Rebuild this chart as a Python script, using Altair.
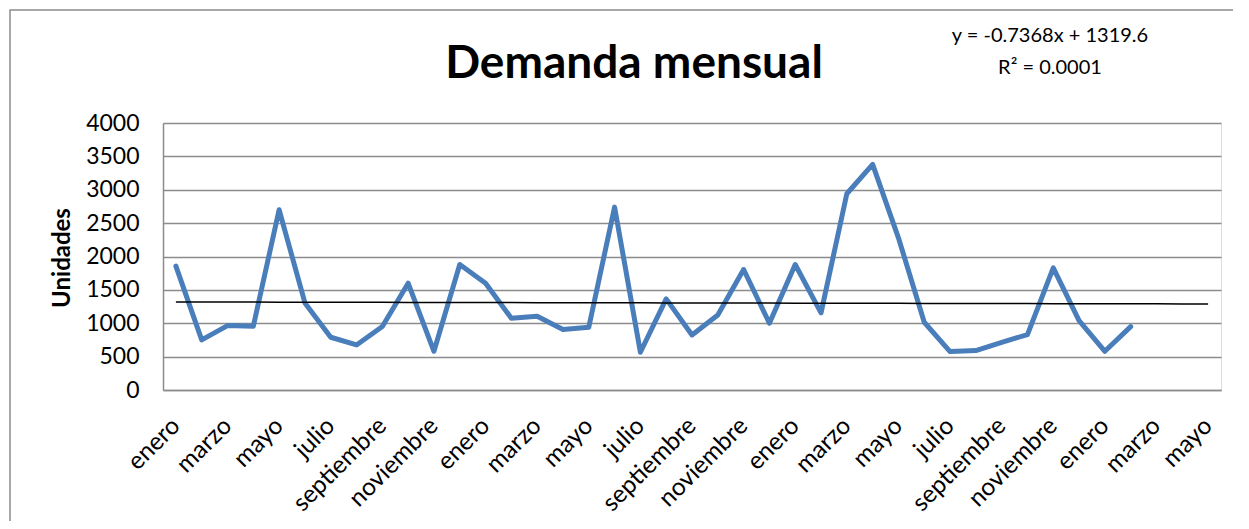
import json
import altair as alt
import pandas as pd

# ---- data ----
meses = ["enero", "febrero", "marzo", "abril", "mayo", "junio", "julio",
         "agosto", "septiembre", "octubre", "noviembre", "diciembre"]
n_periodos = 41  # enero (año 1) ... mayo (año 4)
demanda = [1855, 750, 965, 955, 2700, 1305, 790, 675, 950, 1600, 580, 1880,
           1600, 1075, 1105, 905, 940, 2740, 565, 1365, 825, 1125, 1805, 1000,
           1880, 1155, 2940, 3380, 2280, 1015, 575, 590, 715, 830, 1830, 1040,
           580, 950]
pendiente = -0.7368
intercepto = 1319.6
ecuacion_1 = "y = -0.7368x + 1319.6"
ecuacion_2 = "R² = 0.0001"
titulo = "Demanda mensual"

df = pd.DataFrame({"t": list(range(len(demanda))), "demanda": demanda})
df_trend = pd.DataFrame({
    "t": list(range(n_periodos)),
    "demanda": [pendiente * (i + 1) + intercepto for i in range(n_periodos)],
})

FONT = "Lato"
GRID = "#8c8c8c"
W, H = 1058, 267

x_enc = alt.X(
    "t:O",
    scale=alt.Scale(domain=list(range(n_periodos))),
    axis=alt.Axis(
        title=None,
        values=list(range(0, n_periodos, 2)),
        labelExpr=f"{json.dumps(meses)}[datum.value % 12]",
        labelAngle=-45,
        labelAlign="right",
        labelBaseline="middle",
        labelFontSize=24.5,
        labelFont=FONT,
        labelColor="#000000",
        labelPadding=32,
        labelOverlap=False,
        labelLimit=300,
        ticks=False,
        grid=False,
        domainColor=GRID,
        domainWidth=1.5,
    ),
)
y_enc = alt.Y(
    "demanda:Q",
    scale=alt.Scale(domain=[0, 4000], nice=False),
    axis=alt.Axis(
        title="Unidades",
        values=list(range(0, 4001, 500)),
        format="d",
        labelFontSize=23,
        labelFont=FONT,
        labelColor="#000000",
        labelPadding=24,
        labelOverlap=False,
        ticks=False,
        grid=True,
        gridColor=GRID,
        gridWidth=1.5,
        domainColor=GRID,
        domainWidth=1.5,
        titleFont=FONT,
        titleFontSize=24,
        titleFontWeight="bold",
        titleColor="#000000",
        titleAngle=-90,
        titleX=-94,
        titleY=H / 2 + 1,
        titleBaseline="alphabetic",
        titleAlign="center",
    ),
)

frame = alt.Chart(pd.DataFrame({"k": [0]})).mark_rect(
    fill=None, stroke=GRID, strokeWidth=1.5
).encode(
    x=alt.value(-153), x2=alt.value(W + 200),
    y=alt.value(-113), y2=alt.value(H + 300),
)

linea = alt.Chart(df).mark_line(
    color="#4a7ebb", strokeWidth=5, strokeJoin="round", strokeCap="round"
).encode(x=x_enc, y=y_enc)

tendencia = alt.Chart(df_trend).mark_line(
    color="#000000", strokeWidth=1.5
).encode(x=x_enc, y=y_enc)

tit = alt.Chart(pd.DataFrame({"txt": [titulo]})).mark_text(
    font=FONT, fontSize=46, fontWeight="bold", align="center",
    baseline="alphabetic", color="#000000"
).encode(text="txt:N", x=alt.value(471), y=alt.value(-45))

eq1 = alt.Chart(pd.DataFrame({"txt": [ecuacion_1]})).mark_text(
    font=FONT, fontSize=20, align="center", baseline="alphabetic",
    color="#000000"
).encode(text="txt:N", x=alt.value(887), y=alt.value(-81))

eq2 = alt.Chart(pd.DataFrame({"txt": [ecuacion_2]})).mark_text(
    font=FONT, fontSize=20, align="center", baseline="alphabetic",
    color="#000000"
).encode(text="txt:N", x=alt.value(887), y=alt.value(-49))

chart = alt.layer(frame, linea, tendencia, tit, eq1, eq2).properties(
    width=W, height=H,
    padding={"left": 155, "top": 115, "right": 12, "bottom": 131},
    autosize=alt.AutoSizeParams(type="none"),
).configure_view(stroke=None).configure(background="white")

chart.save("out.html", embed_options={"renderer": "svg", "actions": False})
